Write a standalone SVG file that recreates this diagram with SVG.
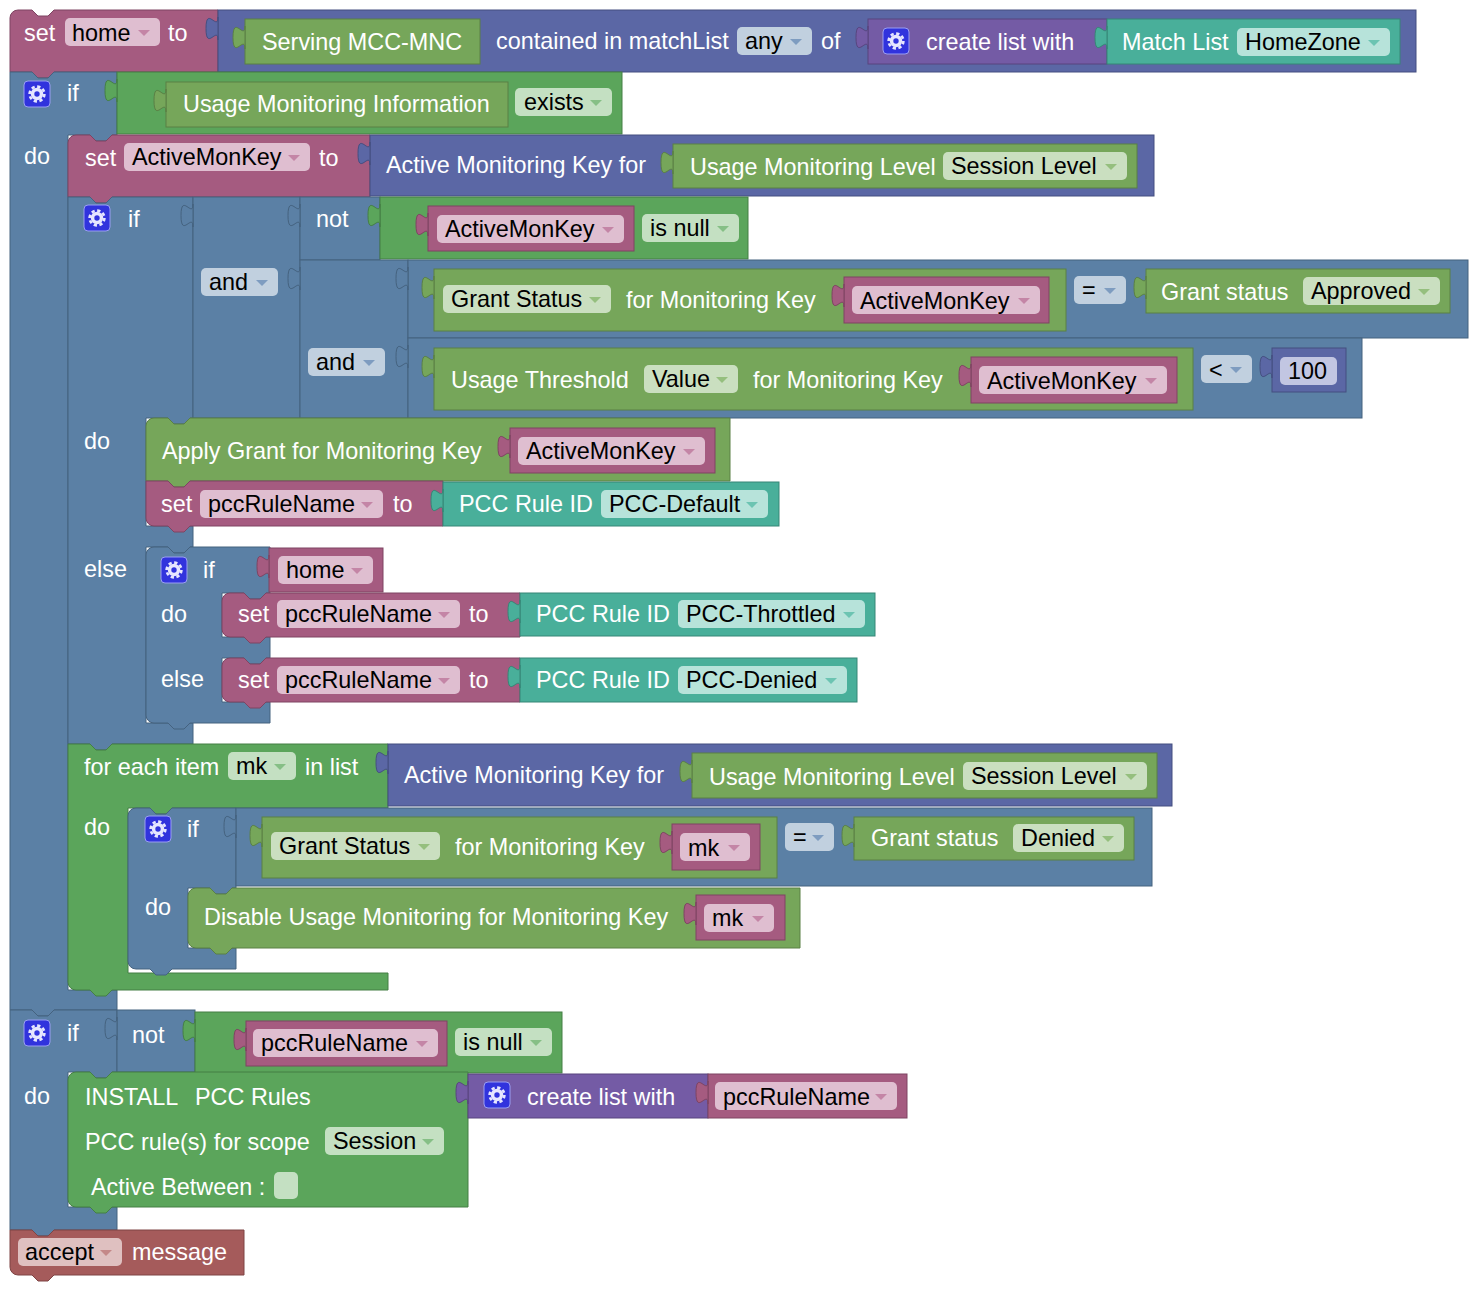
<svg xmlns="http://www.w3.org/2000/svg" xmlns:xlink="http://www.w3.org/1999/xlink" width="1478" height="1292" viewBox="0 0 1478 1292">
<style>
text{font-family:"Liberation Sans",Arial,Helvetica,sans-serif;font-size:23.4px}
.w{fill:#fff}.k{fill:#000}
.var{fill:#A55B80;stroke:#7E4462;stroke-width:1}
.mth{fill:#5B67A5;stroke:#454F80;stroke-width:1}
.lgc{fill:#5B80A5;stroke:#45627F;stroke-width:1}
.grn{fill:#5BA55B;stroke:#457F45;stroke-width:1}
.olv{fill:#76A65A;stroke:#5A8045;stroke-width:1}
.lst{fill:#745BA5;stroke:#58457F;stroke-width:1}
.tea{fill:#49AF9A;stroke:#378676;stroke-width:1}
.red{fill:#A55B5B;stroke:#7F4545;stroke-width:1}
.fv{fill:#DFBED0}.fl{fill:#C1D0DF}.fg{fill:#C4E0C2}.fo{fill:#CADFC0}.ft{fill:#B7E3DA}.fr{fill:#DFC0C0}.fm{fill:#C2C6E2}
.av{fill:#C485A6}.al{fill:#7E9CC0}.ag{fill:#86BF86}.ao{fill:#95BF7E}.at{fill:#6CC4B2}.ar{fill:#C48888}
</style>
<defs>
<path id="tab" d="M0,7 c0,15 -12,-12 -12,11.5 s12,-3.5 12,11.5 Z"/>
<g id="gear">
<rect x="0" y="0" width="26" height="26" rx="4" fill="#3133DD" stroke="#9A9EF2" stroke-width="1"/>
<circle cx="13" cy="13" r="6.2" fill="#E6E6FF"/>
<circle cx="13" cy="13" r="7.4" fill="none" stroke="#E6E6FF" stroke-width="2.6" stroke-dasharray="3.3 2.5"/>
<circle cx="13" cy="13" r="2.7" fill="#3133DD"/>
</g>
</defs>
<g id="connectors"></g>

<g id="set-home">
<path class="var" d="M10,18 A8,8 0 0 1 18,10 H32 L38,16 H48 L54,10 H218 V72 H54 L48,78 H38 L32,72 H10 Z"/>
<text class="w" x="24" y="41">set</text>
<rect class="fv" x="65" y="18" width="95" height="28" rx="5"/><text class="k" x="72" y="41">home</text><path class="av" d="M138,30 h12 l-6,6 z"/>
<text class="w" x="168" y="41">to</text>
</g>
<g id="contained-in-matchlist">
<rect class="mth" x="218" y="10" width="1198" height="62"/><use href="#tab" x="218" y="10" class="mth"/>
<text class="w" x="496" y="49">contained in matchList</text>
<rect class="fl" x="737" y="27" width="75" height="28" rx="5"/><text class="k" x="745" y="49">any</text><path class="al" d="M790,39 h12 l-6,6 z"/>
<text class="w" x="821" y="49">of</text>
</g>
<g id="serving-mcc-mnc">
<rect class="olv" x="245" y="19" width="235" height="45"/><use href="#tab" x="245" y="19" class="olv"/>
<text class="w" x="262" y="50">Serving MCC-MNC</text>
</g>
<g id="create-list-1">
<rect class="lst" x="868" y="19" width="239" height="45"/><use href="#tab" x="868" y="19" class="lst"/>
<use href="#gear" x="883" y="28"/>
<text class="w" x="926" y="50">create list with</text>
</g>
<g id="match-list">
<rect class="tea" x="1107" y="19" width="293" height="45"/><use href="#tab" x="1107" y="19" class="tea"/>
<text class="w" x="1122" y="50">Match List</text>
<rect class="ft" x="1237" y="28" width="153" height="28" rx="5"/><text class="k" x="1245" y="50">HomeZone</text><path class="at" d="M1368,40 h12 l-6,6 z"/>
</g>

<g id="if-1">
<path class="lgc" d="M10,72 H32 L38,78 H48 L54,72 H117 V135 H112 L106,141 H96 L90,135 H68 V990 H117 V1010 H54 L48,1016 H38 L32,1010 H10 Z"/>
<use href="#gear" x="24" y="81"/>
<text class="w" x="67" y="101">if</text>
<text class="w" x="24" y="164">do</text>
</g>
<g id="exists">
<rect class="grn" x="117" y="72" width="505" height="62"/><use href="#tab" x="117" y="72" class="grn"/>
<rect class="fg" x="515" y="88" width="97" height="28" rx="5"/><text class="k" x="524" y="110">exists</text><path class="ag" d="M590,100 h12 l-6,6 z"/>
</g>
<g id="usage-monitoring-information">
<rect class="olv" x="166" y="82" width="342" height="45"/><use href="#tab" x="166" y="82" class="olv"/>
<text class="w" x="183" y="112">Usage Monitoring Information</text>
</g>

<g id="set-activemonkey">
<path class="var" d="M68,143 A8,8 0 0 1 76,135 H90 L96,141 H106 L112,135 H370 V197 H112 L106,203 H96 L90,197 H68 Z"/>
<text class="w" x="85" y="166">set</text>
<rect class="fv" x="124" y="143" width="186" height="28" rx="5"/><text class="k" x="132" y="165">ActiveMonKey</text><path class="av" d="M288,155 h12 l-6,6 z"/>
<text class="w" x="319" y="166">to</text>
</g>
<g id="active-monitoring-key-1">
<rect class="mth" x="370" y="135" width="784" height="61"/><use href="#tab" x="370" y="135" class="mth"/>
<text class="w" x="386" y="173">Active Monitoring Key for</text>
</g>
<g id="usage-monitoring-level-1">
<rect class="olv" x="673" y="144" width="464" height="44"/><use href="#tab" x="673" y="144" class="olv"/>
<text class="w" x="690" y="175">Usage Monitoring Level</text>
<rect class="fo" x="943" y="152" width="184" height="28" rx="5"/><text class="k" x="951" y="174">Session Level</text><path class="ao" d="M1105,164 h12 l-6,6 z"/>
</g>

<g id="if-2">
<path class="lgc" d="M68,197 H90 L96,203 H106 L112,197 H193 V418 H190 L184,424 H174 L168,418 H146 V526 H193 V547 H190 L184,553 H174 L168,547 H146 V723 H193 V744 H112 L106,750 H96 L90,744 H68 Z"/>
<use href="#gear" x="84" y="205"/>
<text class="w" x="128" y="227">if</text>
<text class="w" x="84" y="449">do</text>
<text class="w" x="84" y="577">else</text>
</g>
<g id="and-1">
<rect class="lgc" x="193" y="197" width="107" height="221"/><use href="#tab" x="193" y="197" class="lgc"/>
<rect class="fl" x="201" y="268" width="77" height="28" rx="5"/><text class="k" x="209" y="290">and</text><path class="al" d="M256,280 h12 l-6,6 z"/>
</g>
<g id="not-1">
<rect class="lgc" x="300" y="197" width="80" height="63"/><use href="#tab" x="300" y="197" class="lgc"/>
<text class="w" x="316" y="227">not</text>
</g>
<g id="is-null-1">
<rect class="grn" x="380" y="197" width="368" height="62"/><use href="#tab" x="380" y="197" class="grn"/>
<rect class="fg" x="642" y="214" width="97" height="28" rx="5"/><text class="k" x="650" y="236">is null</text><path class="ag" d="M717,226 h12 l-6,6 z"/>
</g>
<g id="get-activemonkey-1">
<rect class="var" x="428" y="206" width="206" height="45"/><use href="#tab" x="428" y="206" class="var"/>
<rect class="fv" x="437" y="215" width="187" height="28" rx="5"/><text class="k" x="445" y="237">ActiveMonKey</text><path class="av" d="M602,227 h12 l-6,6 z"/>
</g>
<g id="and-2">
<rect class="lgc" x="300" y="260" width="108" height="158"/><use href="#tab" x="300" y="260" class="lgc"/>
<rect class="fl" x="308" y="348" width="77" height="28" rx="5"/><text class="k" x="316" y="370">and</text><path class="al" d="M363,360 h12 l-6,6 z"/>
</g>
<g id="compare-approved">
<rect class="lgc" x="408" y="260" width="1060" height="78"/><use href="#tab" x="408" y="260" class="lgc"/>
<rect class="fl" x="1074" y="276" width="52" height="28" rx="5"/><text class="k" x="1082" y="298">=</text><path class="al" d="M1104,288 h12 l-6,6 z"/>
</g>
<g id="grant-status-1">
<rect class="olv" x="434" y="269" width="632" height="62"/><use href="#tab" x="434" y="269" class="olv"/>
<rect class="fo" x="443" y="285" width="168" height="28" rx="5"/><text class="k" x="451" y="307">Grant Status</text><path class="ao" d="M589,297 h12 l-6,6 z"/>
<text class="w" x="626" y="308">for Monitoring Key</text>
</g>
<g id="get-activemonkey-2">
<rect class="var" x="844" y="277" width="205" height="46"/><use href="#tab" x="844" y="277" class="var"/>
<rect class="fv" x="852" y="286" width="188" height="28" rx="5"/><text class="k" x="860" y="309">ActiveMonKey</text><path class="av" d="M1018,298 h12 l-6,6 z"/>
</g>
<g id="grant-status-approved">
<rect class="olv" x="1146" y="269" width="304" height="44"/><use href="#tab" x="1146" y="269" class="olv"/>
<text class="w" x="1161" y="300">Grant status</text>
<rect class="fo" x="1303" y="277" width="137" height="28" rx="5"/><text class="k" x="1311" y="299">Approved</text><path class="ao" d="M1418,289 h12 l-6,6 z"/>
</g>
<g id="compare-threshold">
<rect class="lgc" x="408" y="338" width="954" height="80"/><use href="#tab" x="408" y="338" class="lgc"/>
<rect class="fl" x="1201" y="355" width="51" height="28" rx="5"/><text class="k" x="1209" y="378">&lt;</text><path class="al" d="M1230,367 h12 l-6,6 z"/>
</g>
<g id="usage-threshold">
<rect class="olv" x="434" y="348" width="759" height="62"/><use href="#tab" x="434" y="348" class="olv"/>
<text class="w" x="451" y="388">Usage Threshold</text>
<rect class="fo" x="644" y="365" width="94" height="28" rx="5"/><text class="k" x="652" y="387">Value</text><path class="ao" d="M716,377 h12 l-6,6 z"/>
<text class="w" x="753" y="388">for Monitoring Key</text>
</g>
<g id="get-activemonkey-3">
<rect class="var" x="971" y="357" width="206" height="46"/><use href="#tab" x="971" y="357" class="var"/>
<rect class="fv" x="979" y="366" width="188" height="28" rx="5"/><text class="k" x="987" y="389">ActiveMonKey</text><path class="av" d="M1145,378 h12 l-6,6 z"/>
</g>
<g id="number-100">
<rect class="mth" x="1272" y="348" width="74" height="44"/><use href="#tab" x="1272" y="348" class="mth"/>
<rect class="fm" x="1280" y="357" width="57" height="28" rx="5"/><text class="k" x="1288" y="379">100</text>
</g>

<g id="apply-grant">
<path class="olv" d="M146,426 A8,8 0 0 1 154,418 H168 L174,424 H184 L190,418 H730 V481 H190 L184,487 H174 L168,481 H146 Z"/>
<text class="w" x="162" y="459">Apply Grant for Monitoring Key</text>
</g>
<g id="get-activemonkey-4">
<rect class="var" x="510" y="428" width="205" height="45"/><use href="#tab" x="510" y="428" class="var"/>
<rect class="fv" x="518" y="437" width="187" height="28" rx="5"/><text class="k" x="526" y="459">ActiveMonKey</text><path class="av" d="M683,449 h12 l-6,6 z"/>
</g>
<g id="set-pcc-default">
<path class="var" d="M146,481 H168 L174,487 H184 L190,481 H443 V526 H190 L184,532 H174 L168,526 H154 A8,8 0 0 1 146,518 Z"/>
<text class="w" x="161" y="512">set</text>
<rect class="fv" x="200" y="490" width="183" height="28" rx="5"/><text class="k" x="208" y="512">pccRuleName</text><path class="av" d="M361,502 h12 l-6,6 z"/>
<text class="w" x="393" y="512">to</text>
</g>
<g id="pcc-default">
<rect class="tea" x="443" y="482" width="336" height="44"/><use href="#tab" x="443" y="482" class="tea"/>
<text class="w" x="459" y="512">PCC Rule ID</text>
<rect class="ft" x="601" y="490" width="167" height="28" rx="5"/><text class="k" x="609" y="512">PCC-Default</text><path class="at" d="M746,502 h12 l-6,6 z"/>
</g>

<g id="if-3">
<path class="lgc" d="M146,555 A8,8 0 0 1 154,547 H168 L174,553 H184 L190,547 H270 V593 H266 L260,599 H250 L244,593 H222 V637 H270 V658 H266 L260,664 H250 L244,658 H222 V702 H270 V723 H190 L184,729 H174 L168,723 H154 A8,8 0 0 1 146,715 Z"/>
<use href="#gear" x="161" y="557"/>
<text class="w" x="203" y="578">if</text>
<text class="w" x="161" y="622">do</text>
<text class="w" x="161" y="687">else</text>
</g>
<g id="get-home">
<rect class="var" x="269" y="548" width="114" height="44"/><use href="#tab" x="269" y="548" class="var"/>
<rect class="fv" x="278" y="556" width="95" height="28" rx="5"/><text class="k" x="286" y="578">home</text><path class="av" d="M351,568 h12 l-6,6 z"/>
</g>
<g id="set-pcc-throttled">
<path class="var" d="M222,601 A8,8 0 0 1 230,593 H244 L250,599 H260 L266,593 H520 V637 H266 L260,643 H250 L244,637 H230 A8,8 0 0 1 222,629 Z"/>
<text class="w" x="238" y="622">set</text>
<rect class="fv" x="277" y="600" width="183" height="28" rx="5"/><text class="k" x="285" y="622">pccRuleName</text><path class="av" d="M438,612 h12 l-6,6 z"/>
<text class="w" x="469" y="622">to</text>
</g>
<g id="pcc-throttled">
<rect class="tea" x="520" y="593" width="355" height="43"/><use href="#tab" x="520" y="593" class="tea"/>
<text class="w" x="536" y="622">PCC Rule ID</text>
<rect class="ft" x="678" y="600" width="187" height="28" rx="5"/><text class="k" x="686" y="622">PCC-Throttled</text><path class="at" d="M843,612 h12 l-6,6 z"/>
</g>
<g id="set-pcc-denied">
<path class="var" d="M222,666 A8,8 0 0 1 230,658 H244 L250,664 H260 L266,658 H520 V702 H266 L260,708 H250 L244,702 H230 A8,8 0 0 1 222,694 Z"/>
<text class="w" x="238" y="688">set</text>
<rect class="fv" x="277" y="666" width="183" height="28" rx="5"/><text class="k" x="285" y="688">pccRuleName</text><path class="av" d="M438,678 h12 l-6,6 z"/>
<text class="w" x="469" y="688">to</text>
</g>
<g id="pcc-denied">
<rect class="tea" x="520" y="658" width="337" height="44"/><use href="#tab" x="520" y="658" class="tea"/>
<text class="w" x="536" y="688">PCC Rule ID</text>
<rect class="ft" x="678" y="666" width="169" height="28" rx="5"/><text class="k" x="686" y="688">PCC-Denied</text><path class="at" d="M825,678 h12 l-6,6 z"/>
</g>

<g id="for-each">
<path class="grn" d="M68,744 H90 L96,750 H106 L112,744 H388 V808 H172 L166,814 H156 L150,808 H128 V973 H388 V990 H112 L106,996 H96 L90,990 H76 A8,8 0 0 1 68,982 Z"/>
<text class="w" x="84" y="775">for each item</text>
<rect class="fg" x="228" y="752" width="68" height="28" rx="5"/><text class="k" x="236" y="774">mk</text><path class="ag" d="M274,764 h12 l-6,6 z"/>
<text class="w" x="305" y="775">in list</text>
<text class="w" x="84" y="835">do</text>
</g>
<g id="active-monitoring-key-2">
<rect class="mth" x="388" y="744" width="784" height="62"/><use href="#tab" x="388" y="744" class="mth"/>
<text class="w" x="404" y="783">Active Monitoring Key for</text>
</g>
<g id="usage-monitoring-level-2">
<rect class="olv" x="692" y="753" width="465" height="45"/><use href="#tab" x="692" y="753" class="olv"/>
<text class="w" x="709" y="785">Usage Monitoring Level</text>
<rect class="fo" x="963" y="762" width="184" height="28" rx="5"/><text class="k" x="971" y="784">Session Level</text><path class="ao" d="M1125,774 h12 l-6,6 z"/>
</g>
<g id="if-4">
<path class="lgc" d="M128,816 A8,8 0 0 1 136,808 H150 L156,814 H166 L172,808 H236 V888 H232 L226,894 H216 L210,888 H188 V948 H236 V969 H172 L166,975 H156 L150,969 H136 A8,8 0 0 1 128,961 Z"/>
<use href="#gear" x="145" y="816"/>
<text class="w" x="187" y="837">if</text>
<text class="w" x="145" y="915">do</text>
</g>
<g id="compare-denied">
<rect class="lgc" x="236" y="808" width="916" height="78"/><use href="#tab" x="236" y="808" class="lgc"/>
<rect class="fl" x="785" y="823" width="49" height="28" rx="5"/><text class="k" x="793" y="845">=</text><path class="al" d="M812,835 h12 l-6,6 z"/>
</g>
<g id="grant-status-2">
<rect class="olv" x="262" y="817" width="515" height="61"/><use href="#tab" x="262" y="817" class="olv"/>
<rect class="fo" x="271" y="832" width="169" height="28" rx="5"/><text class="k" x="279" y="854">Grant Status</text><path class="ao" d="M418,844 h12 l-6,6 z"/>
<text class="w" x="455" y="855">for Monitoring Key</text>
</g>
<g id="get-mk-1">
<rect class="var" x="672" y="824" width="88" height="46"/><use href="#tab" x="672" y="824" class="var"/>
<rect class="fv" x="680" y="833" width="70" height="28" rx="5"/><text class="k" x="688" y="856">mk</text><path class="av" d="M728,845 h12 l-6,6 z"/>
</g>
<g id="grant-status-denied">
<rect class="olv" x="854" y="817" width="280" height="43"/><use href="#tab" x="854" y="817" class="olv"/>
<text class="w" x="871" y="846">Grant status</text>
<rect class="fo" x="1013" y="824" width="111" height="28" rx="5"/><text class="k" x="1021" y="846">Denied</text><path class="ao" d="M1102,836 h12 l-6,6 z"/>
</g>
<g id="disable-usage-monitoring">
<path class="olv" d="M188,896 A8,8 0 0 1 196,888 H210 L216,894 H226 L232,888 H800 V948 H232 L226,954 H216 L210,948 H196 A8,8 0 0 1 188,940 Z"/>
<text class="w" x="204" y="925">Disable Usage Monitoring for Monitoring Key</text>
</g>
<g id="get-mk-2">
<rect class="var" x="696" y="895" width="89" height="45"/><use href="#tab" x="696" y="895" class="var"/>
<rect class="fv" x="704" y="904" width="70" height="28" rx="5"/><text class="k" x="712" y="926">mk</text><path class="av" d="M752,916 h12 l-6,6 z"/>
</g>

<g id="if-5">
<path class="lgc" d="M10,1010 H32 L38,1016 H48 L54,1010 H117 V1072 H112 L106,1078 H96 L90,1072 H68 V1207 H117 V1230 H54 L48,1236 H38 L32,1230 H10 Z"/>
<use href="#gear" x="24" y="1020"/>
<text class="w" x="67" y="1041">if</text>
<text class="w" x="24" y="1104">do</text>
</g>
<g id="not-2">
<rect class="lgc" x="117" y="1010" width="78" height="62"/><use href="#tab" x="117" y="1010" class="lgc"/>
<text class="w" x="132" y="1043">not</text>
</g>
<g id="is-null-2">
<rect class="grn" x="195" y="1012" width="367" height="61"/><use href="#tab" x="195" y="1012" class="grn"/>
<rect class="fg" x="455" y="1028" width="97" height="28" rx="5"/><text class="k" x="463" y="1050">is null</text><path class="ag" d="M530,1040 h12 l-6,6 z"/>
</g>
<g id="get-pccrulename-1">
<rect class="var" x="246" y="1021" width="201" height="45"/><use href="#tab" x="246" y="1021" class="var"/>
<rect class="fv" x="253" y="1029" width="185" height="28" rx="5"/><text class="k" x="261" y="1051">pccRuleName</text><path class="av" d="M416,1041 h12 l-6,6 z"/>
</g>
<g id="install-pcc-rules">
<path class="grn" d="M68,1080 A8,8 0 0 1 76,1072 H90 L96,1078 H106 L112,1072 H468 V1207 H112 L106,1213 H96 L90,1207 H76 A8,8 0 0 1 68,1199 Z"/>
<text class="w" x="85" y="1105">INSTALL</text>
<text class="w" x="195" y="1105">PCC Rules</text>
<text class="w" x="85" y="1150">PCC rule(s) for scope</text>
<rect class="fg" x="325" y="1127" width="119" height="28" rx="5"/><text class="k" x="333" y="1149">Session</text><path class="ag" d="M422,1139 h12 l-6,6 z"/>
<text class="w" x="91" y="1195">Active Between :</text>
<rect class="fg" x="274" y="1172" width="24" height="27" rx="5"/>
</g>
<g id="create-list-2">
<rect class="lst" x="468" y="1074" width="240" height="44"/><use href="#tab" x="468" y="1074" class="lst"/>
<use href="#gear" x="484" y="1082"/>
<text class="w" x="527" y="1105">create list with</text>
</g>
<g id="get-pccrulename-2">
<rect class="var" x="708" y="1074" width="199" height="44"/><use href="#tab" x="708" y="1074" class="var"/>
<rect class="fv" x="715" y="1082" width="182" height="28" rx="5"/><text class="k" x="723" y="1105">pccRuleName</text><path class="av" d="M875,1094 h12 l-6,6 z"/>
</g>

<g id="accept-message">
<path class="red" d="M10,1230 H32 L38,1236 H48 L54,1230 H244 V1275 H54 L48,1281 H38 L32,1275 H18 A8,8 0 0 1 10,1267 Z"/>
<rect class="fr" x="18" y="1238" width="104" height="28" rx="5"/><text class="k" x="25" y="1260">accept</text><path class="ar" d="M100,1250 h12 l-6,6 z"/>
<text class="w" x="132" y="1260">message</text>
</g>
</svg>
